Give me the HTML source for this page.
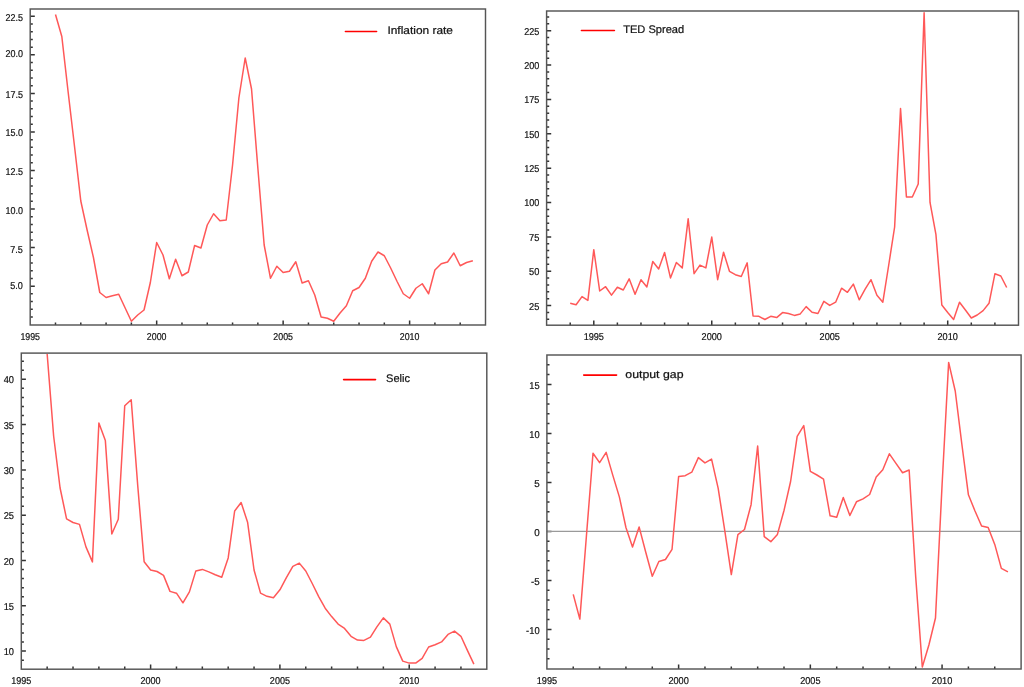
<!DOCTYPE html>
<html><head><meta charset="utf-8"><title>Charts</title>
<style>
html,body{margin:0;padding:0;background:#fff;}
body{width:1024px;height:687px;overflow:hidden;font-family:"Liberation Sans",sans-serif;}
svg{display:block;will-change:transform;}
</style></head><body>
<svg width="1024" height="687" viewBox="0 0 1024 687">
<rect width="1024" height="687" fill="#fff"/>
<g font-family="Liberation Sans, sans-serif" text-rendering="geometricPrecision" fill="#141414" stroke="#141414" stroke-width="0.22">
<path d="M30.2 316.99h2.6M30.2 309.28h2.6M30.2 301.57h2.6M30.2 293.86h2.6M30.2 286.15h4.6M30.2 278.44h2.6M30.2 270.73h2.6M30.2 263.02h2.6M30.2 255.31h2.6M30.2 247.6h4.6M30.2 239.89h2.6M30.2 232.18h2.6M30.2 224.47h2.6M30.2 216.76h2.6M30.2 209.05h4.6M30.2 201.34h2.6M30.2 193.63h2.6M30.2 185.92h2.6M30.2 178.21h2.6M30.2 170.5h4.6M30.2 162.79h2.6M30.2 155.08h2.6M30.2 147.37h2.6M30.2 139.66h2.6M30.2 131.95h4.6M30.2 124.24h2.6M30.2 116.53h2.6M30.2 108.82h2.6M30.2 101.11h2.6M30.2 93.4h4.6M30.2 85.69h2.6M30.2 77.98h2.6M30.2 70.27h2.6M30.2 62.56h2.6M30.2 54.85h4.6M30.2 47.14h2.6M30.2 39.43h2.6M30.2 31.72h2.6M30.2 24.01h2.6M30.2 16.3h4.6M55.49 325v-2.6M80.79 325v-2.6M106.08 325v-2.6M131.38 325v-2.6M156.67 325v-4.6M181.97 325v-2.6M207.26 325v-2.6M232.56 325v-2.6M257.85 325v-2.6M283.14 325v-4.6M308.44 325v-2.6M333.73 325v-2.6M359.03 325v-2.6M384.32 325v-2.6M409.62 325v-4.6M434.91 325v-2.6M460.21 325v-2.6" stroke="#333333" stroke-width="1.5" fill="none"/>
<polyline points="55.49,14.5 61.82,36.5 68.14,92 74.47,146 80.79,201 87.11,230 93.44,257.5 99.76,292.5 106.08,297.5 112.41,295.75 118.73,294.25 125.05,307.75 131.38,321.25 137.7,315 144.02,310 150.35,282.5 156.67,242.5 163,255 169.32,278.75 175.64,259.25 181.97,275.75 188.29,272 194.61,245.5 200.94,248 207.26,225 213.58,213.75 219.91,220.75 226.23,220 232.56,165 238.88,98 245.2,58 251.53,89 257.85,168 264.17,245 270.5,278.25 276.82,266.25 283.14,272.5 289.47,271.25 295.79,261.75 302.12,283 308.44,280.75 314.76,295 321.09,317 327.41,318.25 333.73,321.25 340.06,313 346.38,305.75 352.7,290.75 359.03,287.5 365.35,278.25 371.68,261.25 378,252 384.32,255.75 390.65,268 396.97,281.25 403.29,293.75 409.62,298.25 415.94,288.25 422.26,283.75 428.59,293.75 434.91,270 441.23,263.75 447.56,262 453.88,253 460.21,265.75 466.53,262.5 472.85,260.75" fill="none" stroke="#ff5858" stroke-width="1.5" stroke-linejoin="round"/>
<rect x="30.2" y="9" width="455.3" height="316" fill="none" stroke="#555555" stroke-width="1.45"/>
<text x="22.9" y="21.2" text-anchor="end" font-size="10" textLength="17.45" lengthAdjust="spacingAndGlyphs">22.5</text>
<text x="22.9" y="56.7" text-anchor="end" font-size="10" textLength="17.45" lengthAdjust="spacingAndGlyphs">20.0</text>
<text x="22.9" y="98.1" text-anchor="end" font-size="10" textLength="17.45" lengthAdjust="spacingAndGlyphs">17.5</text>
<text x="22.9" y="136.2" text-anchor="end" font-size="10" textLength="17.45" lengthAdjust="spacingAndGlyphs">15.0</text>
<text x="22.9" y="175.1" text-anchor="end" font-size="10" textLength="17.45" lengthAdjust="spacingAndGlyphs">12.5</text>
<text x="22.9" y="214" text-anchor="end" font-size="10" textLength="17.45" lengthAdjust="spacingAndGlyphs">10.0</text>
<text x="22.9" y="252.8" text-anchor="end" font-size="10" textLength="12.6" lengthAdjust="spacingAndGlyphs">7.5</text>
<text x="22.9" y="288.9" text-anchor="end" font-size="10" textLength="12.6" lengthAdjust="spacingAndGlyphs">5.0</text>
<text x="30.2" y="339.9" text-anchor="middle" font-size="10" textLength="19.6" lengthAdjust="spacingAndGlyphs">1995</text>
<text x="156.67" y="339.9" text-anchor="middle" font-size="10" textLength="19.6" lengthAdjust="spacingAndGlyphs">2000</text>
<text x="283.14" y="339.9" text-anchor="middle" font-size="10" textLength="19.6" lengthAdjust="spacingAndGlyphs">2005</text>
<text x="409.62" y="339.9" text-anchor="middle" font-size="10" textLength="19.6" lengthAdjust="spacingAndGlyphs">2010</text>
<line x1="345.4" y1="31.5" x2="376.6" y2="31.5" stroke="#ff0000" stroke-width="1.6" stroke-linecap="round"/>
<text x="387.4" y="34.3" font-size="11" textLength="65.6" lengthAdjust="spacingAndGlyphs">Inflation rate</text>
<path d="M546.6 319.35h2.6M546.6 312.47h2.6M546.6 305.6h4.6M546.6 298.73h2.6M546.6 291.86h2.6M546.6 284.98h2.6M546.6 278.11h2.6M546.6 271.24h4.6M546.6 264.37h2.6M546.6 257.49h2.6M546.6 250.62h2.6M546.6 243.75h2.6M546.6 236.88h4.6M546.6 230h2.6M546.6 223.13h2.6M546.6 216.26h2.6M546.6 209.38h2.6M546.6 202.51h4.6M546.6 195.64h2.6M546.6 188.77h2.6M546.6 181.89h2.6M546.6 175.02h2.6M546.6 168.15h4.6M546.6 161.28h2.6M546.6 154.41h2.6M546.6 147.53h2.6M546.6 140.66h2.6M546.6 133.79h4.6M546.6 126.92h2.6M546.6 120.04h2.6M546.6 113.17h2.6M546.6 106.3h2.6M546.6 99.43h4.6M546.6 92.55h2.6M546.6 85.68h2.6M546.6 78.81h2.6M546.6 71.94h2.6M546.6 65.06h4.6M546.6 58.19h2.6M546.6 51.32h2.6M546.6 44.45h2.6M546.6 37.57h2.6M546.6 30.7h4.6M546.6 23.83h2.6M546.6 16.95h2.6M570.2 325.2v-2.6M593.79 325.2v-4.6M617.38 325.2v-2.6M640.98 325.2v-2.6M664.58 325.2v-2.6M688.17 325.2v-2.6M711.76 325.2v-4.6M735.36 325.2v-2.6M758.95 325.2v-2.6M782.55 325.2v-2.6M806.14 325.2v-2.6M829.74 325.2v-4.6M853.34 325.2v-2.6M876.93 325.2v-2.6M900.53 325.2v-2.6M924.12 325.2v-2.6M947.71 325.2v-4.6M971.31 325.2v-2.6M994.9 325.2v-2.6" stroke="#333333" stroke-width="1.5" fill="none"/>
<polyline points="570.2,303.2 576.09,304.7 581.99,296.6 587.89,300.4 593.79,249.7 599.69,291 605.59,286.7 611.49,295.1 617.38,287.2 623.28,290 629.18,278.8 635.08,294.2 640.98,279.7 646.88,286.9 652.78,261.5 658.68,269 664.58,252.5 670.47,277.9 676.37,262.5 682.27,267.9 688.17,218.8 694.07,273.7 699.97,265.1 705.87,267.9 711.76,237.1 717.66,279.7 723.56,252.2 729.46,271.3 735.36,274.7 741.26,276.5 747.16,262.9 753.06,316 758.95,316.3 764.85,319.5 770.75,316.3 776.65,317.6 782.55,312.6 788.45,313.5 794.35,315.4 800.25,313.9 806.14,306.6 812.04,312.2 817.94,313.5 823.84,301.3 829.74,305.4 835.64,302.2 841.54,288.2 847.44,292.3 853.34,284.1 859.23,299.8 865.13,289.1 871.03,279.7 876.93,295.3 882.83,302.2 888.73,265 894.63,227 900.53,108.5 906.42,197 912.32,197 918.22,184 924.12,12.8 930.02,202.4 935.92,234.4 941.82,305 947.71,312.5 953.61,319.5 959.51,302.3 965.41,310 971.31,318 977.21,315 983.11,310.6 989.01,303.3 994.9,273.8 1000.8,276 1006.7,287.5" fill="none" stroke="#ff5858" stroke-width="1.5" stroke-linejoin="round"/>
<rect x="546.6" y="11" width="471.9" height="314.2" fill="none" stroke="#555555" stroke-width="1.45"/>
<text x="539.3" y="34.6" text-anchor="end" font-size="10" textLength="15.15" lengthAdjust="spacingAndGlyphs">225</text>
<text x="539.3" y="68.96" text-anchor="end" font-size="10" textLength="15.15" lengthAdjust="spacingAndGlyphs">200</text>
<text x="539.3" y="103.33" text-anchor="end" font-size="10" textLength="15.15" lengthAdjust="spacingAndGlyphs">175</text>
<text x="539.3" y="137.69" text-anchor="end" font-size="10" textLength="15.15" lengthAdjust="spacingAndGlyphs">150</text>
<text x="539.3" y="172.05" text-anchor="end" font-size="10" textLength="15.15" lengthAdjust="spacingAndGlyphs">125</text>
<text x="539.3" y="206.41" text-anchor="end" font-size="10" textLength="15.15" lengthAdjust="spacingAndGlyphs">100</text>
<text x="539.3" y="240.77" text-anchor="end" font-size="10" textLength="10.3" lengthAdjust="spacingAndGlyphs">75</text>
<text x="539.3" y="275.14" text-anchor="end" font-size="10" textLength="10.3" lengthAdjust="spacingAndGlyphs">50</text>
<text x="539.3" y="309.5" text-anchor="end" font-size="10" textLength="10.3" lengthAdjust="spacingAndGlyphs">25</text>
<text x="593.79" y="340.1" text-anchor="middle" font-size="10" textLength="20.3" lengthAdjust="spacingAndGlyphs">1995</text>
<text x="711.76" y="340.1" text-anchor="middle" font-size="10" textLength="20.3" lengthAdjust="spacingAndGlyphs">2000</text>
<text x="829.74" y="340.1" text-anchor="middle" font-size="10" textLength="20.3" lengthAdjust="spacingAndGlyphs">2005</text>
<text x="947.71" y="340.1" text-anchor="middle" font-size="10" textLength="20.3" lengthAdjust="spacingAndGlyphs">2010</text>
<line x1="581.4" y1="30.5" x2="614.4" y2="30.5" stroke="#ff0000" stroke-width="1.6" stroke-linecap="round"/>
<text x="623.2" y="33.2" font-size="11" textLength="61" lengthAdjust="spacingAndGlyphs">TED Spread</text>
<path d="M21.3 660.16h2.6M21.3 651.1h4.6M21.3 642.04h2.6M21.3 632.98h2.6M21.3 623.92h2.6M21.3 614.86h2.6M21.3 605.8h4.6M21.3 596.74h2.6M21.3 587.68h2.6M21.3 578.62h2.6M21.3 569.56h2.6M21.3 560.5h4.6M21.3 551.44h2.6M21.3 542.38h2.6M21.3 533.32h2.6M21.3 524.26h2.6M21.3 515.2h4.6M21.3 506.14h2.6M21.3 497.08h2.6M21.3 488.02h2.6M21.3 478.96h2.6M21.3 469.9h4.6M21.3 460.84h2.6M21.3 451.78h2.6M21.3 442.72h2.6M21.3 433.66h2.6M21.3 424.6h4.6M21.3 415.54h2.6M21.3 406.48h2.6M21.3 397.42h2.6M21.3 388.36h2.6M21.3 379.3h4.6M21.3 370.24h2.6M21.3 361.18h2.6M47.16 669.2v-2.6M73.02 669.2v-2.6M98.88 669.2v-2.6M124.74 669.2v-2.6M150.61 669.2v-4.6M176.47 669.2v-2.6M202.33 669.2v-2.6M228.19 669.2v-2.6M254.05 669.2v-2.6M279.91 669.2v-4.6M305.77 669.2v-2.6M331.63 669.2v-2.6M357.49 669.2v-2.6M383.36 669.2v-2.6M409.22 669.2v-4.6M435.08 669.2v-2.6M460.94 669.2v-2.6" stroke="#333333" stroke-width="1.5" fill="none"/>
<polyline points="47.16,354 53.63,436 60.09,488 66.56,518.8 73.02,522.5 79.49,524.4 85.95,546.9 92.42,561.9 98.88,423 105.35,440.6 111.81,534 118.28,519.2 124.74,405.8 131.21,399.7 137.68,485 144.14,561.7 150.61,570 157.07,571.5 163.54,575.4 170,591.4 176.47,593.2 182.93,602.8 189.4,591.9 195.86,570.9 202.33,569.4 208.79,571.9 215.26,574.7 221.72,577.2 228.19,557.9 234.65,511 241.12,502.5 247.58,522.2 254.05,570 260.52,593.1 266.98,596.3 273.45,597.8 279.91,589.8 286.38,577.6 292.84,566.3 299.31,563.1 305.77,571 312.24,583.5 318.7,596.6 325.17,608.2 331.63,616.6 338.1,624.1 344.56,628.4 351.03,636.3 357.49,640.1 363.96,640.4 370.43,637.2 376.89,626.9 383.36,617.9 389.82,624.1 396.29,646.6 402.75,661.1 409.22,663.1 415.68,663.1 422.15,658.3 428.61,647 435.08,644.7 441.54,641.9 448.01,634.4 454.47,631.1 460.94,636.3 467.4,650.4 473.87,664.1" fill="none" stroke="#ff5858" stroke-width="1.5" stroke-linejoin="round"/>
<rect x="21.3" y="353.1" width="465.5" height="316.1" fill="none" stroke="#555555" stroke-width="1.45"/>
<text x="14" y="383.3" text-anchor="end" font-size="10" textLength="10.3" lengthAdjust="spacingAndGlyphs">40</text>
<text x="14" y="428.6" text-anchor="end" font-size="10" textLength="10.3" lengthAdjust="spacingAndGlyphs">35</text>
<text x="14" y="473.9" text-anchor="end" font-size="10" textLength="10.3" lengthAdjust="spacingAndGlyphs">30</text>
<text x="14" y="519.2" text-anchor="end" font-size="10" textLength="10.3" lengthAdjust="spacingAndGlyphs">25</text>
<text x="14" y="564.5" text-anchor="end" font-size="10" textLength="10.3" lengthAdjust="spacingAndGlyphs">20</text>
<text x="14" y="609.8" text-anchor="end" font-size="10" textLength="10.3" lengthAdjust="spacingAndGlyphs">15</text>
<text x="14" y="655.1" text-anchor="end" font-size="10" textLength="10.3" lengthAdjust="spacingAndGlyphs">10</text>
<text x="21.3" y="684.1" text-anchor="middle" font-size="10" textLength="20.1" lengthAdjust="spacingAndGlyphs">1995</text>
<text x="150.61" y="684.1" text-anchor="middle" font-size="10" textLength="20.1" lengthAdjust="spacingAndGlyphs">2000</text>
<text x="279.91" y="684.1" text-anchor="middle" font-size="10" textLength="20.1" lengthAdjust="spacingAndGlyphs">2005</text>
<text x="409.22" y="684.1" text-anchor="middle" font-size="10" textLength="20.1" lengthAdjust="spacingAndGlyphs">2010</text>
<line x1="343.6" y1="379.6" x2="375.5" y2="379.6" stroke="#ff0000" stroke-width="1.6" stroke-linecap="round"/>
<text x="386" y="382.3" font-size="11" textLength="24" lengthAdjust="spacingAndGlyphs">Selic</text>
<path d="M546.9 658.8h2.6M546.9 649h2.6M546.9 639.2h2.6M546.9 629.4h4.6M546.9 619.6h2.6M546.9 609.8h2.6M546.9 600h2.6M546.9 590.2h2.6M546.9 580.4h4.6M546.9 570.6h2.6M546.9 560.8h2.6M546.9 551h2.6M546.9 541.2h2.6M546.9 531.4h4.6M546.9 521.6h2.6M546.9 511.8h2.6M546.9 502h2.6M546.9 492.2h2.6M546.9 482.4h4.6M546.9 472.6h2.6M546.9 462.8h2.6M546.9 453h2.6M546.9 443.2h2.6M546.9 433.4h4.6M546.9 423.6h2.6M546.9 413.8h2.6M546.9 404h2.6M546.9 394.2h2.6M546.9 384.4h4.6M546.9 374.6h2.6M546.9 364.8h2.6M573.24 669v-2.6M599.59 669v-2.6M625.93 669v-2.6M652.28 669v-2.6M678.62 669v-4.6M704.97 669v-2.6M731.31 669v-2.6M757.66 669v-2.6M784 669v-2.6M810.34 669v-4.6M836.69 669v-2.6M863.03 669v-2.6M889.38 669v-2.6M915.72 669v-2.6M942.07 669v-4.6M968.41 669v-2.6M994.76 669v-2.6" stroke="#333333" stroke-width="1.5" fill="none"/>
<line x1="546.9" y1="531.4" x2="1021.1" y2="531.4" stroke="#9a9a9a" stroke-width="1.2"/>
<polyline points="573.24,594.4 579.83,619.1 586.42,536 593,453.3 599.59,462.6 606.17,452.4 612.76,475.1 619.35,496.9 625.93,527.5 632.52,547 639.11,526.9 645.69,552 652.28,576.3 658.86,561.5 665.45,559.5 672.04,549.3 678.62,476.5 685.21,475.7 691.79,472.2 698.38,457.6 704.97,462.9 711.55,459.1 718.14,488.2 724.73,530.4 731.31,574.6 737.9,534.7 744.48,529.5 751.07,504.7 757.66,446 764.24,536.7 770.83,541.7 777.41,534.4 784,510.5 790.59,481.5 797.17,436.4 803.76,425.6 810.34,471.3 816.93,475 823.52,479.1 830.1,515.8 836.69,517.2 843.28,497.5 849.86,515.5 856.45,501.8 863.03,498.9 869.62,494.5 876.21,477.1 882.79,469.8 889.38,453.8 895.96,463.4 902.55,472.7 909.14,470 915.72,577 922.31,667 928.89,645 935.48,618 942.07,485 948.65,362.4 955.24,391 961.83,444 968.41,494.8 975,511 981.58,526 988.17,527.5 994.76,544.4 1001.34,568.4 1007.93,571.8" fill="none" stroke="#ff5858" stroke-width="1.5" stroke-linejoin="round"/>
<rect x="546.9" y="355" width="474.2" height="314" fill="none" stroke="#555555" stroke-width="1.45"/>
<text x="539.6" y="388.6" text-anchor="end" font-size="10" textLength="10.3" lengthAdjust="spacingAndGlyphs">15</text>
<text x="539.6" y="437.6" text-anchor="end" font-size="10" textLength="10.3" lengthAdjust="spacingAndGlyphs">10</text>
<text x="539.6" y="486.6" text-anchor="end" font-size="10" textLength="5.45" lengthAdjust="spacingAndGlyphs">5</text>
<text x="539.6" y="535.6" text-anchor="end" font-size="10" textLength="5.45" lengthAdjust="spacingAndGlyphs">0</text>
<text x="539.6" y="584.6" text-anchor="end" font-size="10" textLength="8.65" lengthAdjust="spacingAndGlyphs">-5</text>
<text x="539.6" y="633.6" text-anchor="end" font-size="10" textLength="13.5" lengthAdjust="spacingAndGlyphs">-10</text>
<text x="546.9" y="683.9" text-anchor="middle" font-size="10" textLength="20.4" lengthAdjust="spacingAndGlyphs">1995</text>
<text x="678.62" y="683.9" text-anchor="middle" font-size="10" textLength="20.4" lengthAdjust="spacingAndGlyphs">2000</text>
<text x="810.34" y="683.9" text-anchor="middle" font-size="10" textLength="20.4" lengthAdjust="spacingAndGlyphs">2005</text>
<text x="942.07" y="683.9" text-anchor="middle" font-size="10" textLength="20.4" lengthAdjust="spacingAndGlyphs">2010</text>
<line x1="583.7" y1="375.1" x2="616.6" y2="375.1" stroke="#ff0000" stroke-width="1.6" stroke-linecap="round"/>
<text x="625.3" y="378.3" font-size="11" textLength="58.2" lengthAdjust="spacingAndGlyphs">output gap</text>
</g>
</svg>
</body></html>
